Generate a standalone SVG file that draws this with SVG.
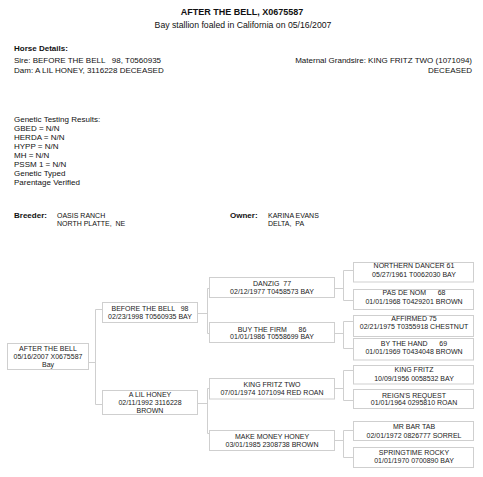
<svg xmlns="http://www.w3.org/2000/svg" width="483" height="477" viewBox="0 0 483 477">
<style>
text{font-family:"Liberation Sans",Arial,sans-serif;fill:#111;white-space:pre}
.t{font-size:9px;font-weight:bold;text-anchor:middle}
.s{font-size:8.7px;text-anchor:middle}
.d{font-size:8px}
.b{font-size:8px;font-weight:bold}
.v{font-size:7px}
.r{font-size:8px;text-anchor:end}
.box{fill:#fff;stroke:#cfcfcf;stroke-width:1}
.n{font-size:7px;text-anchor:middle;fill:#222}
.c{fill:none;stroke:#cfcfcf;stroke-width:1}
</style>
<rect width="483" height="477" fill="#fff"/>
<g id="header">
<text class="t" x="242" y="14.5">AFTER THE BELL, X0675587</text>
<text class="s" x="243" y="27.5">Bay stallion foaled in California on 05/16/2007</text>
<text class="b" x="14" y="51" font-size="8.5">Horse Details:</text>
<text class="d" x="14" y="63">Sire: BEFORE THE BELL   98, T0560935</text>
<text class="d" x="14" y="73">Dam: A LIL HONEY, 3116228 DECEASED</text>
<text class="r" x="472" y="63">Maternal Grandsire: KING FRITZ TWO (1071094)</text>
<text class="r" x="472" y="73">DECEASED</text>
</g>
<g id="genetics">
<text class="d" x="14" y="122">Genetic Testing Results:</text>
<text class="d" x="14" y="131">GBED = N/N</text>
<text class="d" x="14" y="140">HERDA = N/N</text>
<text class="d" x="14" y="149">HYPP = N/N</text>
<text class="d" x="14" y="157.5">MH = N/N</text>
<text class="d" x="14" y="166.5">PSSM 1 = N/N</text>
<text class="d" x="14" y="175.5">Genetic Typed</text>
<text class="d" x="14" y="184.5">Parentage Verified</text>
</g>
<g id="breeder">
<text class="b" x="14" y="218">Breeder:</text>
<text class="v" x="57" y="217.5">OASIS RANCH</text>
<text class="v" x="57" y="225.5">NORTH PLATTE,  NE</text>
<text class="b" x="230" y="218">Owner:</text>
<text class="v" x="268" y="217.5">KARINA EVANS</text>
<text class="v" x="268" y="225.5">DELTA,  PA</text>
</g>
<g id="connectors">
<path class="c" d="M88.5,362.5H95.5M95.5,309.5V404.5M95.5,309.5H102.5M95.5,404.5H102.5"/>
<path class="c" d="M197.5,313.5H207.5M207.5,288.5V333.5M207.5,288.5H209.5M207.5,333.5H209.5"/>
<path class="c" d="M197.5,403.5H207.5M207.5,388.5V433.5M207.5,388.5H209.5M207.5,433.5H209.5"/>
<path class="c" d="M334.5,288.5H343.5M343.5,270.5V300.5M343.5,270.5H353.5M343.5,300.5H353.5"/>
<path class="c" d="M334.5,333.5H343.5M343.5,321.5V348.5M343.5,321.5H353.5M343.5,348.5H353.5"/>
<path class="c" d="M334.5,388.5H343.5M343.5,370.5V400.5M343.5,370.5H353.5M343.5,400.5H353.5"/>
<path class="c" d="M334.5,440.5H343.5M343.5,430.5V457.5M343.5,430.5H353.5M343.5,457.5H353.5"/>
</g>
<g id="n-root">
<rect class="box" x="7.5" y="343.5" width="81" height="26"/>
<text class="n" x="48" y="350.5">AFTER THE BELL</text>
<text class="n" x="48" y="359">05/16/2007 X0675587</text>
<text class="n" x="48" y="367">Bay</text>
</g>
<g id="n-sire">
<rect class="box" x="102.5" y="302.5" width="95" height="20"/>
<text class="n" x="150" y="311">BEFORE THE BELL   98</text>
<text class="n" x="150" y="319">02/23/1998 T0560935 BAY</text>
</g>
<g id="n-dam">
<rect class="box" x="102.5" y="390.5" width="95" height="24"/>
<text class="n" x="150" y="397">A LIL HONEY</text>
<text class="n" x="150" y="405">02/11/1992 3116228</text>
<text class="n" x="150" y="412.5">BROWN</text>
</g>
<g id="n-danzig">
<rect class="box" x="209.5" y="277.5" width="125" height="20"/>
<text class="n" x="272" y="286">DANZIG  77</text>
<text class="n" x="272" y="294.3">02/12/1977 T0458573 BAY</text>
</g>
<g id="n-buythefirm">
<rect class="box" x="209.5" y="322.5" width="125" height="20"/>
<text class="n" x="272" y="331.6">BUY THE FIRM      86</text>
<text class="n" x="272" y="339.3">01/01/1986 T0558699 BAY</text>
</g>
<g id="n-kingfritztwo">
<rect class="box" x="209.5" y="378.5" width="125" height="20.5"/>
<text class="n" x="272" y="387">KING FRITZ TWO</text>
<text class="n" x="272" y="395">07/01/1974 1071094 RED ROAN</text>
</g>
<g id="n-makemoney">
<rect class="box" x="209.5" y="430.5" width="125" height="20"/>
<text class="n" x="272" y="438.6">MAKE MONEY HONEY</text>
<text class="n" x="272" y="446.6">03/01/1985 2308738 BROWN</text>
</g>
<g id="n-northerndancer">
<rect class="box" x="353.5" y="262.5" width="120" height="19.5"/>
<text class="n" x="414" y="268">NORTHERN DANCER 61</text>
<text class="n" x="414" y="276.6">05/27/1961 T0062030 BAY</text>
</g>
<g id="n-pasdenom">
<rect class="box" x="353.5" y="289.5" width="120" height="20"/>
<text class="n" x="414" y="295.3">PAS DE NOM      68</text>
<text class="n" x="414" y="303.6">01/01/1968 T0429201 BROWN</text>
</g>
<g id="n-affirmed">
<rect class="box" x="353.5" y="315.5" width="120" height="21"/>
<text class="n" x="414" y="321">AFFIRMED 75</text>
<text class="n" x="414" y="329.3">02/21/1975 T0355918 CHESTNUT</text>
</g>
<g id="n-bythehand">
<rect class="box" x="353.5" y="338.5" width="120" height="21.5"/>
<text class="n" x="414" y="346">BY THE HAND      69</text>
<text class="n" x="414" y="354.3">01/01/1969 T0434048 BROWN</text>
</g>
<g id="n-kingfritz">
<rect class="box" x="353.5" y="365.5" width="120" height="18.5"/>
<text class="n" x="414" y="372">KING FRITZ</text>
<text class="n" x="414" y="381">10/09/1956 0058532 BAY</text>
</g>
<g id="n-reignsrequest">
<rect class="box" x="353.5" y="389.5" width="120" height="19"/>
<text class="n" x="414" y="397.6">REIGN'S REQUEST</text>
<text class="n" x="414" y="405.3">01/01/1964 0295810 ROAN</text>
</g>
<g id="n-mrbartab">
<rect class="box" x="353.5" y="421.5" width="120" height="19"/>
<text class="n" x="414" y="428.6">MR BAR TAB</text>
<text class="n" x="414" y="437.6">02/01/1972 0826777 SORREL</text>
</g>
<g id="n-springtime">
<rect class="box" x="353.5" y="447.5" width="120" height="20"/>
<text class="n" x="414" y="454.6">SPRINGTIME ROCKY</text>
<text class="n" x="414" y="462.6">01/01/1970 0700890 BAY</text>
</g>
</svg>
